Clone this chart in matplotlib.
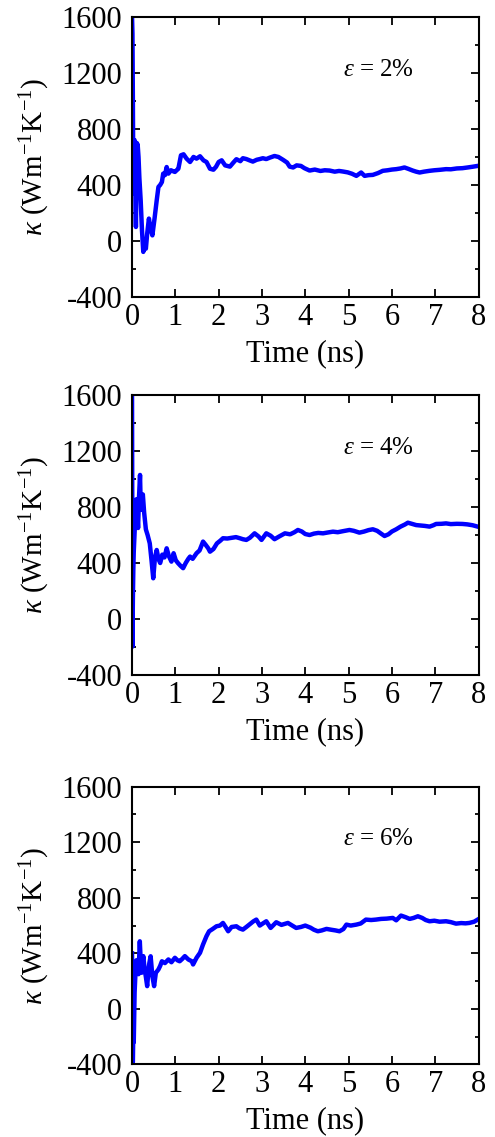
"""Thermal conductivity convergence vs simulation time at three strains."""
import matplotlib
matplotlib.use("Agg")
import matplotlib.pyplot as plt
from matplotlib.ticker import MultipleLocator

# --- data (time in ns, kappa in W m^-1 K^-1) ---
t_2 = [0, 0.01, 0.02, 0.025, 0.03, 0.04, 0.05, 0.06, 0.07, 0.08, 0.09, 0.10,
       0.11, 0.12, 0.13, 0.15, 0.17, 0.20, 0.23, 0.26, 0.29, 0.32, 0.35, 0.39,
       0.42, 0.47, 0.52, 0.57, 0.61, 0.65, 0.69, 0.72, 0.76, 0.80, 0.84, 0.90,
       0.95, 0.99, 1.03, 1.07, 1.13, 1.19, 1.26, 1.34, 1.42, 1.49, 1.57, 1.65,
       1.72, 1.80, 1.88, 1.94, 2.00, 2.07, 2.15, 2.26, 2.34, 2.41, 2.50, 2.56,
       2.64, 2.72, 2.79, 2.88, 2.95, 3.02, 3.10, 3.18, 3.29, 3.38, 3.49, 3.58,
       3.64, 3.72, 3.80, 3.90, 3.98, 4.10, 4.22, 4.35, 4.45, 4.56, 4.68, 4.78,
       4.87, 4.98, 5.08, 5.18, 5.29, 5.37, 5.46, 5.56, 5.68, 5.79, 5.90, 6.00,
       6.10, 6.20, 6.29, 6.38, 6.48, 6.56, 6.64, 6.74, 6.87, 6.98, 7.10, 7.25,
       7.36, 7.50, 7.63, 7.75, 7.86, 7.98]
k_2 = [1600, 1480, 1000, 720, 340, 670, 480, 720, 560, 300, 100, 420,
       700, 560, 690, 600, 450, 290, 76, -78, -40, -55, 52, 160,
       100, 40, 160, 290, 386, 400, 421, 481, 470, 528, 481, 505,
       498, 493, 505, 516, 612, 619, 588, 564, 600, 588, 605, 576,
       564, 516, 509, 530, 564, 576, 540, 531, 560, 584, 570, 591,
       585, 575, 567, 580, 585, 591, 585, 595, 607, 600, 579, 560,
       531, 525, 540, 536, 520, 503, 510, 500, 505, 503, 495, 500,
       496, 490, 480, 465, 489, 465, 470, 472, 485, 501, 505, 510,
       513, 518, 525, 515, 503, 495, 489, 495, 501, 505, 508, 513,
       512, 518, 520, 525, 530, 536]

t_4 = [0, 0.005, 0.01, 0.02, 0.03, 0.04, 0.06, 0.08, 0.10, 0.12, 0.14, 0.16,
       0.185, 0.20, 0.22, 0.25, 0.28, 0.32, 0.36, 0.41, 0.45, 0.49, 0.53, 0.57,
       0.61, 0.65, 0.70, 0.75, 0.80, 0.85, 0.91, 0.96, 1.01, 1.06, 1.12, 1.18,
       1.24, 1.30, 1.34, 1.40, 1.49, 1.56, 1.64, 1.70, 1.76, 1.80, 1.88, 1.96,
       2.04, 2.10, 2.20, 2.30, 2.40, 2.49, 2.56, 2.64, 2.72, 2.83, 2.92, 2.99,
       3.10, 3.20, 3.29, 3.40, 3.53, 3.65, 3.75, 3.83, 3.92, 4.00, 4.10, 4.20,
       4.30, 4.41, 4.52, 4.64, 4.75, 4.88, 5.02, 5.12, 5.25, 5.36, 5.46, 5.56,
       5.66, 5.75, 5.83, 5.92, 6.00, 6.10, 6.20, 6.30, 6.37, 6.46, 6.56, 6.66,
       6.76, 6.87, 6.96, 7.02, 7.14, 7.25, 7.36, 7.50, 7.63, 7.74, 7.86, 7.98]
k_4 = [1600, 900, -197, 150, 350, 480, 620, 780, 855, 760, 650, 860,
       1029, 820, 780, 890, 760, 640, 600, 540, 420, 291, 440, 493,
       430, 400, 460, 440, 505, 450, 410, 470, 420, 400, 380, 363,
       400, 430, 446, 430, 470, 490, 553, 530, 505, 481, 500, 540,
       560, 577, 575, 580, 585, 577, 570, 565, 580, 612, 590, 565,
       612, 595, 570, 590, 612, 605, 620, 636, 625, 607, 600, 610,
       615, 612, 618, 624, 620, 628, 636, 630, 617, 625, 635, 641,
       630, 610, 593, 605, 625, 641, 660, 675, 688, 680, 671, 668,
       665, 660, 670, 679, 680, 683, 678, 680, 679, 676, 670, 660]

t_6 = [0, 0.005, 0.01, 0.02, 0.03, 0.04, 0.06, 0.08, 0.10, 0.12, 0.15, 0.18,
       0.20, 0.22, 0.24, 0.26, 0.29, 0.32, 0.35, 0.38, 0.40, 0.43, 0.47, 0.51,
       0.55, 0.61, 0.65, 0.69, 0.76, 0.84, 0.91, 0.99, 1.05, 1.10, 1.16, 1.22,
       1.30, 1.38, 1.41, 1.49, 1.57, 1.64, 1.72, 1.78, 1.86, 1.95, 2.03, 2.10,
       2.16, 2.22, 2.30, 2.41, 2.48, 2.56, 2.64, 2.72, 2.80, 2.87, 2.95, 3.02,
       3.10, 3.20, 3.33, 3.45, 3.60, 3.70, 3.79, 3.90, 4.00, 4.12, 4.20, 4.29,
       4.38, 4.49, 4.60, 4.70, 4.79, 4.88, 4.95, 5.05, 5.18, 5.28, 5.40, 5.52,
       5.63, 5.75, 5.88, 6.02, 6.10, 6.21, 6.32, 6.41, 6.50, 6.60, 6.70, 6.78,
       6.87, 6.98, 7.10, 7.25, 7.36, 7.48, 7.60, 7.70, 7.79, 7.90, 7.98]
k_6 = [400, 150, -400, -380, -150, -240, 120, 260, 350, 308, 250, 487,
       350, 260, 330, 380, 290, 230, 164, 280, 330, 379, 235, 164,
       260, 284, 310, 343, 330, 356, 336, 368, 350, 343, 360, 380,
       356, 343, 320, 368, 404, 464, 524, 559, 575, 595, 600, 619,
       590, 559, 590, 595, 580, 571, 590, 610, 630, 643, 600, 615,
       631, 583, 624, 605, 619, 600, 583, 590, 600, 585, 570, 559,
       565, 576, 570, 565, 559, 575, 607, 600, 607, 615, 643, 640,
       643, 648, 650, 655, 638, 672, 660, 648, 655, 667, 655, 640,
       631, 635, 628, 631, 625, 614, 618, 616, 619, 628, 643]

strain_labels = ["2%", "4%", "6%"]
series = [(t_2, k_2), (t_4, k_4), (t_6, k_6)]

plt.rcParams["font.family"] = ["Liberation Serif", "DejaVu Serif"]
plt.rcParams["mathtext.fontset"] = "custom"
plt.rcParams["mathtext.rm"] = "Liberation Serif"
plt.rcParams["mathtext.it"] = "Liberation Serif:italic"
plt.rcParams["axes.unicode_minus"] = False

fig = plt.figure(figsize=(4.95, 11.37), dpi=100)

# axes boxes in figure fractions (left, bottom, width, height)
boxes = [(0.2667, 0.7388, 0.700, 0.2463),
         (0.2667, 0.4063, 0.700, 0.2463),
         (0.2667, 0.0638, 0.700, 0.2443)]

for (t, k), lab, box in zip(series, strain_labels, boxes):
    ax = fig.add_axes(box)
    ax.plot(t, k, color="#0000ff", lw=3.2, solid_joinstyle="round")
    ax.set_xlim(0, 8)
    ax.set_ylim(-400, 1600)
    ax.xaxis.set_major_locator(MultipleLocator(1))
    ax.yaxis.set_major_locator(MultipleLocator(400))
    ax.yaxis.set_minor_locator(MultipleLocator(200))
    ax.tick_params(which="both", direction="in", top=True, right=True, width=1.3)
    ax.tick_params(which="major", length=5.5, labelsize=22)
    ax.tick_params(axis="y", which="major", pad=7)
    ax.tick_params(axis="x", which="major", pad=4)
    ax.tick_params(which="minor", length=3)
    for sp in ax.spines.values():
        sp.set_linewidth(1.5)

    ax.set_xlabel("Time (ns)", fontsize=22)
    ax.xaxis.set_label_coords(0.5, -0.15)
    ax.set_ylabel(r"$\kappa$ (Wm$^{-1}$K$^{-1}$)", fontsize=21)
    ax.yaxis.set_label_coords(-0.23, 0.5)

    ax.text(0.71, 0.81, r"$\varepsilon$ = " + lab, transform=ax.transAxes,
            ha="center", va="center", fontsize=18)

fig.savefig("out.png", dpi=100)
